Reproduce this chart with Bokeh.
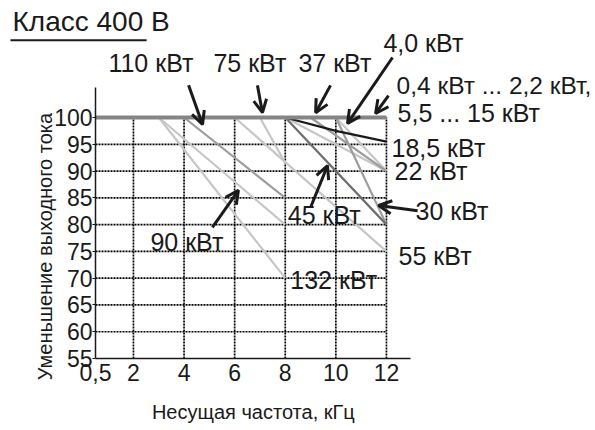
import math
from bokeh.plotting import figure
from bokeh.models import Label, Arrow, OpenHead, FixedTicker, Range1d
from bokeh.embed import file_html
from bokeh.resources import INLINE

FONT = "Liberation Sans"

# ---- data -------------------------------------------------------------
x_ticks = [0.5, 2, 4, 6, 8, 10, 12]
x_tick_labels = ["0,5", "2", "4", "6", "8", "10", "12"]
y_ticks = [55, 60, 65, 70, 75, 80, 85, 90, 95, 100]
grid_x = [2, 4, 6, 8, 10, 12]
grid_y = [60, 65, 70, 75, 80, 85, 90, 95]

# carrier frequency (kHz) -> output current reduction (%)
f_base = [0.5, 12];   v_base = [100, 100]      # 0,4 ... 2,2 kW, 5,5 ... 15 kW
f_132 = [3, 8];       v_132 = [100, 70]
f_90 = [3, 8];        v_90 = [100, 80]
f_110 = [4, 8];       v_110 = [100, 85]
f_75 = [7, 8];        v_75 = [100, 91.5]
f_55 = [6, 12];       v_55 = [100, 75]
f_45 = [8, 12];       v_45 = [100, 80]
f_37 = [9, 12];       v_37 = [100, 90]
f_22 = [8, 12];       v_22 = [100, 90]
f_18 = [8, 10, 12];   v_18 = [100, 97.5, 95.5]
f_30 = [10, 12];      v_30 = [100, 80]
f_4 = [10, 12];       v_4 = [100, 90]

LIGHT = "#c6c6c6"
MID = "#9c9c9c"
DARK = "#6e6e6e"
BLACK = "#1a1a1a"
BASE = "#858585"

XS, YS = 25.3, 5.356      # px per unit
xmin = 0.5 - 95 / XS
ymax = 100 + 117 / YS
W, H = 595, 430

p = figure(width=W, height=H, output_backend="svg", toolbar_location=None,
           x_range=Range1d(xmin, xmin + W / XS), y_range=Range1d(ymax - H / YS, ymax),
           min_border=0)
p.outline_line_color = None
p.xgrid.visible = False
p.ygrid.visible = False

# axes
p.xaxis.fixed_location = 55
p.yaxis.fixed_location = 0.5
p.xaxis.ticker = FixedTicker(ticks=x_ticks)
p.xaxis.major_label_overrides = {t: l for t, l in zip(x_ticks, x_tick_labels)}
p.yaxis.ticker = FixedTicker(ticks=y_ticks)
for ax in (p.xaxis, p.yaxis):
    ax.axis_line_color = BLACK
    ax.axis_line_width = 1.5
    ax.minor_tick_line_color = None
    ax.major_label_text_font = FONT
    ax.major_label_text_font_size = "23px"
    ax.major_label_text_color = BLACK
    ax.major_tick_line_color = BLACK
p.xaxis.bounds = (0.5, 12.95)
p.yaxis.bounds = (55, 105.6)
p.xaxis.major_tick_out = 0
p.xaxis.major_tick_in = 0
p.xaxis.major_label_standoff = 5
p.yaxis.major_tick_out = 3
p.yaxis.major_tick_in = 0
p.yaxis.major_label_standoff = 0

# grid (dotted)
p.segment(x0=[0.5] * len(grid_y), y0=grid_y, x1=[12] * len(grid_y), y1=grid_y,
          line_color="#000000", line_width=1.7, line_dash="2 1")
p.segment(x0=grid_x, y0=[55] * len(grid_x), x1=grid_x, y1=[100] * len(grid_x),
          line_color="#000000", line_width=1.7, line_dash="2 1")

# curves
for f, v, c in [(f_132, v_132, LIGHT), (f_90, v_90, LIGHT), (f_75, v_75, LIGHT),
                (f_55, v_55, LIGHT), (f_22, v_22, LIGHT), (f_4, v_4, LIGHT),
                (f_110, v_110, MID), (f_37, v_37, MID), (f_30, v_30, MID),
                (f_45, v_45, DARK), (f_18, v_18, BLACK)]:
    p.line(f, v, line_color=c, line_width=2.2)
p.line(f_base, v_base, line_color=BASE, line_width=4)

# labels
def lab(x, y, text, size="25px", align="left", angle=0):
    p.add_layout(Label(x=x, y=y, text=text, text_font=FONT, text_font_size=size,
                       text_baseline="middle", text_align=align, text_color=BLACK,
                       angle=angle))

lab(-2.78, 118.0, "Класс 400 В", size="28px")
p.add_layout(Arrow(end=None, x_start=-2.86, y_start=114.4, x_end=2.52, y_end=114.4,
                   line_color=BLACK, line_width=2))
lab(1.01, 110.1, "110 кВт")
lab(5.16, 110.1, "75 кВт")
lab(8.52, 110.1, "37 кВт")
lab(11.88, 114.0, "4,0 кВт")
lab(12.40, 106.0, "0,4 кВт ... 2,2 кВт,", size="24.5px")
lab(12.44, 100.8, "5,5 ... 15 кВт")
lab(12.2, 94.3, "18,5 кВт")
lab(12.32, 90.1, "22 кВт")
lab(13.15, 82.6, "30 кВт")
lab(12.48, 74.2, "55 кВт")
lab(8.1, 81.8, "45 кВт")
lab(2.67, 76.7, "90 кВт")
lab(8.2, 69.6, "132 кВт")
lab(6.74, 45.0, "Несущая частота, кГц", size="20px", align="center")
lab(-1.48, 75.9, "Уменьшение выходного тока", size="20px", align="center",
    angle=math.pi / 2)

# arrows
for xs, ys, xe, ye in [(4.18, 106.0, 4.73, 98.7),
                       (6.90, 106.0, 7.10, 100.9),
                       (9.79, 106.0, 9.20, 100.9),
                       (12.24, 111.2, 10.46, 98.9),
                       (12.08, 104.1, 11.57, 100.75),
                       (13.23, 82.6, 11.69, 83.57),
                       (9.00, 83.2, 9.67, 91.0),
                       (5.12, 79.5, 6.15, 86.4)]:
    p.add_layout(Arrow(end=OpenHead(size=13, line_width=3, line_color=BLACK),
                       x_start=xs, y_start=ys, x_end=xe, y_end=ye,
                       line_color=BLACK, line_width=3))

open("out.html", "w").write(file_html(p, INLINE))
